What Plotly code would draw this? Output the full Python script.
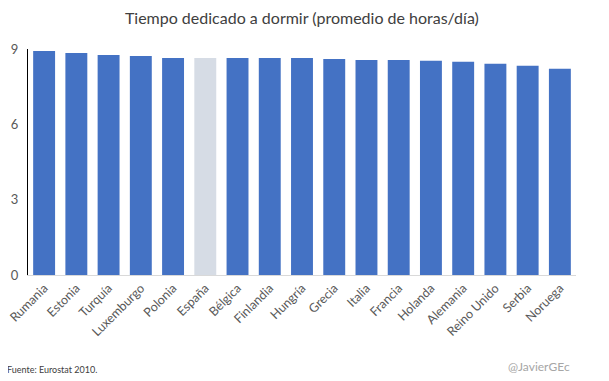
import plotly.graph_objects as go

paises = ["Rumania", "Estonia", "Turquía", "Luxemburgo", "Polonia", "España", "Bélgica",
          "Finlandia", "Hungría", "Grecia", "Italia", "Francia", "Holanda", "Alemania",
          "Reino Unido", "Serbia", "Noruega"]
horas = [8.92, 8.84, 8.76, 8.72, 8.64, 8.64, 8.64, 8.64, 8.64, 8.60, 8.56, 8.56, 8.53,
         8.49, 8.41, 8.33, 8.21]
resaltado = "España"

colores = ["#D6DCE5" if p == resaltado else "#4472C4" for p in paises]

fig = go.Figure(go.Bar(x=paises, y=horas, marker=dict(color=colores, line=dict(width=0)),
                       hoverinfo="x+y"))

font_fam = "Lato, 'Open Sans', sans-serif"
fig.update_layout(
    width=601, height=373,
    margin=dict(l=20, r=33, t=41, b=106, autoexpand=False),
    paper_bgcolor="white", plot_bgcolor="white",
    bargap=0.32,
    showlegend=False,
    title=dict(text="Tiempo dedicado a dormir (promedio de horas/día)", x=0.489, xanchor="center",
               y=0.973, yanchor="middle", font=dict(family=font_fam, size=16, color="#404040")),
    xaxis=dict(tickangle=-45, tickfont=dict(family=font_fam, size=12.5, color="#595959"),
               showline=True, linecolor="#D9D9D9", linewidth=1, ticks="", showgrid=False,
               automargin=False),
    yaxis=dict(range=[0, 9], tickvals=[0, 3, 6, 9], tickfont=dict(family=font_fam, size=13, color="#595959"),
               showline=True, linecolor="black", linewidth=1, showgrid=False, zeroline=False,
               ticks="", ticklabelstandoff=6, automargin=False),
    annotations=[
        dict(text="Fuente: Eurostat 2010.", xref="paper", yref="paper", x=-0.042, xanchor="left",
             y=-0.42, yanchor="middle", showarrow=False,
             font=dict(family=font_fam, size=9, color="#404040")),
        dict(text="@JavierGEc", xref="paper", yref="paper", x=0.993, xanchor="right",
             y=-0.407, yanchor="middle", showarrow=False,
             font=dict(family=font_fam, size=12, color="#A6A6A6")),
    ],
)

fig.write_html("out.html")
